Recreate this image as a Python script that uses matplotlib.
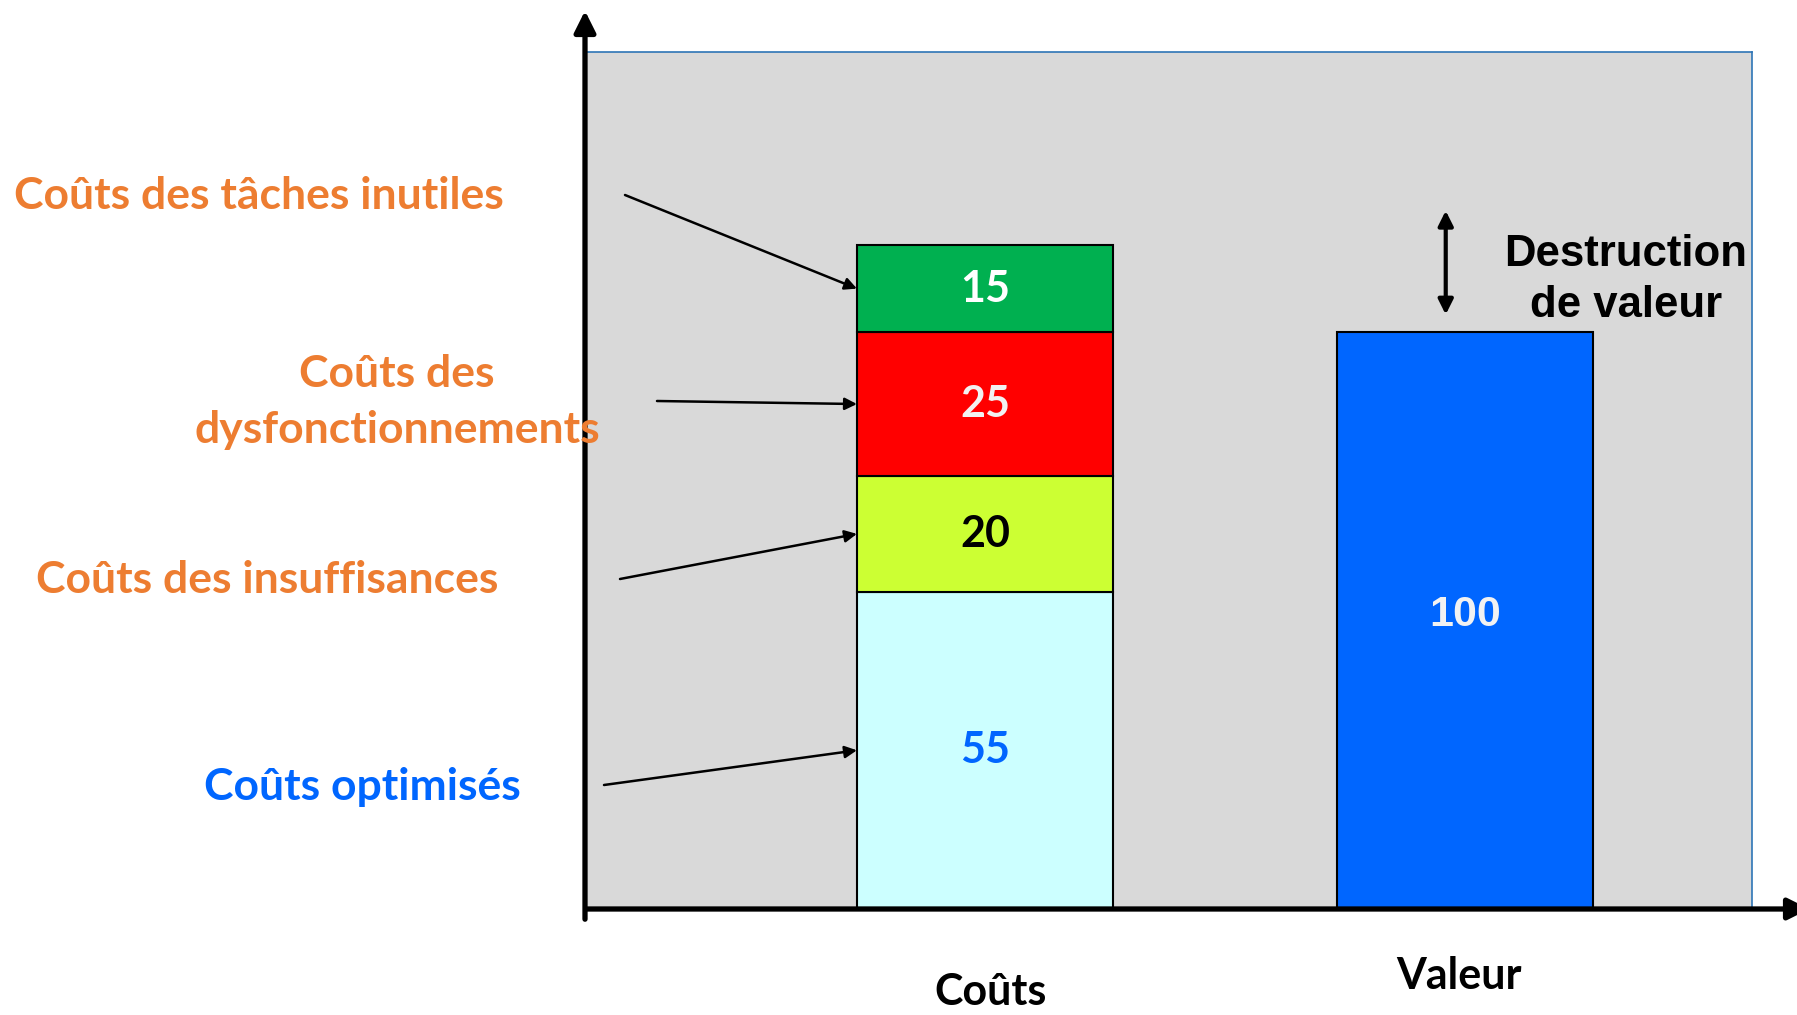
import matplotlib.pyplot as plt

# data
categories = ["Coûts", "Valeur"]
cost_labels = ["Coûts optimisés", "Coûts des insuffisances",
               "Coûts des\ndysfonctionnements", "Coûts des tâches inutiles"]
cost_values = [55, 20, 25, 15]
value_total = 100

cost_colors = ["#CCFFFF", "#CCFF33", "#FF0000", "#00B050"]
num_colors = ["#0066FF", "black", "#F2F2F2", "white"]
label_colors = ["#0066FF", "#ED7D31", "#ED7D31", "#ED7D31"]

W, H = 1797, 1015
fig = plt.figure(figsize=(W / 100, H / 100), dpi=100)


def fx(px):
    return px / W


def fy(py):
    return 1 - py / H


ax = fig.add_axes([fx(585), fy(909), fx(1752) - fx(585), fy(52) - fy(909)])
ax.set_facecolor("#D9D9D9")
ax.set_xlim(-0.833, 1.598)
ax.set_ylim(0, 148.5)
ax.set_xticks([])
ax.set_yticks([])
for s in ["left", "bottom"]:
    ax.spines[s].set_visible(False)
for s in ["top", "right"]:
    ax.spines[s].set_color("#2E75B6")
    ax.spines[s].set_linewidth(1.2)

bw = 0.533
bottom = 0
for v, c, nc in zip(cost_values, cost_colors, num_colors):
    ax.bar(0, v, bottom=bottom, width=bw, color=c, edgecolor="black", linewidth=1.5, zorder=3)
    ax.text(0, bottom + v / 2, str(v), ha="center", va="center", color=nc,
            fontsize=31, fontweight="bold", family="Lato", zorder=4)
    bottom += v
total_cost = bottom

ax.bar(1, value_total, width=bw, color="#0066FF", edgecolor="black", linewidth=1.5, zorder=3)
ax.text(1, value_total / 2 + 1, str(value_total), ha="center", va="center", color="#F2F2F2",
        fontsize=31, fontweight="bold", family="Liberation Sans", zorder=4)

# destruction de valeur
ax.annotate("", xy=(0.96, total_cost + 6), xytext=(0.96, value_total + 3),
            arrowprops=dict(arrowstyle="<|-|>", lw=3, color="black", mutation_scale=22,
                            shrinkA=0, shrinkB=0))
fig.text(fx(1626), fy(280), "Destruction\nde valeur", ha="center", va="center",
         fontsize=31.5, fontweight="bold", family="Liberation Sans", linespacing=1.3)

# left labels and arrows
label_pos = [(362, 787), (267, 580), (397, 402), (259, 196)]
tail_pos = [(604, 785), (620, 579), (657, 401), (625, 195)]
bottom = 0
for lab, v, lc, (lx, ly), (tx, ty) in zip(cost_labels, cost_values, label_colors, label_pos, tail_pos):
    fig.text(fx(lx), fy(ly), lab, ha="center", va="center", color=lc, fontsize=32,
             fontweight="bold", family="Lato", linespacing=1.5, zorder=10)
    ax.annotate("", xy=(-bw / 2, bottom + v / 2), xycoords="data",
                xytext=(fx(tx), fy(ty)), textcoords="figure fraction",
                arrowprops=dict(arrowstyle="-|>", lw=1.8, color="black", mutation_scale=18,
                                shrinkA=0, shrinkB=0), zorder=6, annotation_clip=False)
    bottom += v

# category labels
fig.text(fx(991), fy(992), categories[0], ha="center", va="center", fontsize=31,
         fontweight="bold", family="Lato")
fig.text(fx(1459), fy(976), categories[1], ha="center", va="center", fontsize=31,
         fontweight="bold", family="Lato")

# axis arrows
fig.add_artist(plt.matplotlib.patches.FancyArrowPatch(
    (fx(585), fy(922)), (fx(585), fy(8)), transform=fig.transFigure,
    arrowstyle="-|>", mutation_scale=32, lw=3.8, color="black", zorder=5))
fig.add_artist(plt.matplotlib.patches.FancyArrowPatch(
    (fx(583), fy(909)), (fx(1812), fy(909)), transform=fig.transFigure,
    arrowstyle="-|>", mutation_scale=32, lw=3.8, color="black", zorder=5))

fig.savefig("out.png", dpi=100)
